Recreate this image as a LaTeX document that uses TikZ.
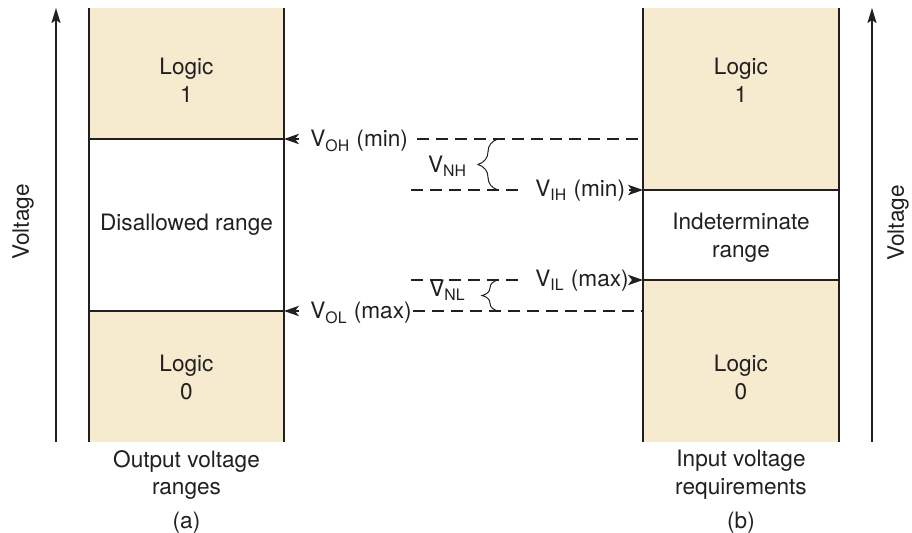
\documentclass[tikz,border=0pt]{standalone}
\usepackage{fontspec}
\setmainfont{TeX Gyre Heros}
\usetikzlibrary{arrows.meta,decorations.pathreplacing,calc}
\definecolor{beige}{RGB}{246,234,207}
\definecolor{ink}{RGB}{35,31,32}
\begin{document}
\begin{tikzpicture}[x=0.5pt,y=-0.5pt,
  every node/.style={font=\fontsize{11.3}{13.7}\selectfont, text=ink, inner sep=0pt},
  edge/.style={line width=1pt, draw=ink},
  divider/.style={line width=0.9pt, draw=ink},
  dashline/.style={line width=0.6pt, draw=ink, dash pattern=on 6pt off 3.5pt},
  axis/.style={line width=1pt, draw=ink, -{Stealth[length=7.5pt,width=4.5pt,inset=1.5pt]}},
  mk/.style={line width=0.8pt, draw=ink, -{Stealth[length=7.5pt,width=5.2pt,inset=2pt]}},
  bracestyle/.style={line width=0.5pt, draw=ink, decorate, decoration={brace, amplitude=#1}},
  ]
\useasboundingbox (0,0) rectangle (912,533);

% coordinates
\coordinate (aTL) at (89,8);   \coordinate (aTR) at (284,8);
\coordinate (aBL) at (89,442); \coordinate (aBR) at (284,442);
\coordinate (bTL) at (643,8);  \coordinate (bTR) at (839,8);
\coordinate (bBL) at (643,442);\coordinate (bBR) at (839,442);
\coordinate (ohL) at (284,139); \coordinate (ohR) at (643,139);
\coordinate (olL) at (284,311); \coordinate (olR) at (643,311);
\coordinate (ihS) at (411,190); \coordinate (ihR) at (643,190);
\coordinate (ilS) at (411,280); \coordinate (ilR) at (643,280);
\coordinate (axA0) at (56,442); \coordinate (axA1) at (56,8);
\coordinate (axB0) at (872,442); \coordinate (axB1) at (872,8);

% fills
\fill[beige] (aTL) rectangle (ohL);
\fill[beige] (89,311) rectangle (aBR);
\fill[beige] (bTL) rectangle (839,190);
\fill[beige] (643,280) rectangle (bBR);

% box edges
\draw[edge] (aTL) -- (aBL);
\draw[edge] (aTR) -- (aBR);
\draw[edge] (bTL) -- (bBL);
\draw[edge] (bTR) -- (bBR);
\draw[divider] (89,139) -- (ohL);
\draw[divider] (89,311) -- (olL);
\draw[divider] (ihR) -- (839,190);
\draw[divider] (ilR) -- (839,280);

% axes
\draw[axis] (axA0) -- (axA1);
\draw[axis] (axB0) -- (axB1);

% box texts
\node[anchor=north, align=center] (l1a) at (186.5,58) {Logic\\1};
\node[anchor=base] (dis) at (186.5,231) {Disallowed range};
\node[anchor=north, align=center] (l0a) at (186.5,355) {Logic\\0};
\node[anchor=north, align=center] (l1b) at (741,58) {Logic\\1};
\node[anchor=north, align=center] (ind) at (741,213) {Indeterminate\\range};
\node[anchor=north, align=center] (l0b) at (741,355) {Logic\\0};
\node[anchor=north, align=center] (capa) at (186.5,450) {Output voltage\\ranges};
\node[anchor=north, align=center] (capb) at (741,450) {Input voltage\\requirements};
\node (taga) at (186.5,523) {(a)};
\node (tagb) at (741,523) {(b)};
\node[rotate=90] (va) at (23,222) {Voltage};
\node[rotate=90] (vb) at (898,223) {Voltage};

% level labels
\node[anchor=base west] (voh) at (310,147) {V\textsubscript{OH} (min)};
\node[anchor=base west] (vol) at (310,319) {V\textsubscript{OL} (max)};
\node[anchor=base west] (vih) at (535,197) {V\textsubscript{IH} (min)};
\node[anchor=base west] (vil) at (535,287) {V\textsubscript{IL} (max)};
\node[anchor=base] (vnh) at (447.5,173) {V\textsubscript{NH}};
\node[anchor=base] (vnl) at (447.5,297) {V\textsubscript{NL}};

% dashed levels
\draw[dashline] ($(ohL -| voh.east)+(9,0)$) -- (ohR);
\draw[dashline] ($(olL -| vol.east)+(1,0)$) -- (olR);
\draw[dashline] (ihS) -- ($(ihR -| vih.west)+(-13,0)$);
\draw[dashline] (ilS) -- ($(ilR -| vil.west)+(-14,0)$);

% markers
\draw[mk] ($(ohL -| voh.west)+(-11,0)$) -- (ohL);
\draw[mk] ($(olL -| vol.west)+(-11,0)$) -- (olL);
\draw[mk] ($(ihR -| vih.east)+(4,0)$) -- (ihR);
\draw[mk] ($(ilR -| vil.east)+(4,0)$) -- (ilR);

% braces
\coordinate (bhT) at (498,139); \coordinate (bhB) at (498,190);
\coordinate (blT) at (498,280); \coordinate (blB) at (498,311);
\draw[bracestyle=10pt] (bhB) -- (bhT);
\draw[bracestyle=8pt] (blB) -- (blT);
\end{tikzpicture}
\end{document}
